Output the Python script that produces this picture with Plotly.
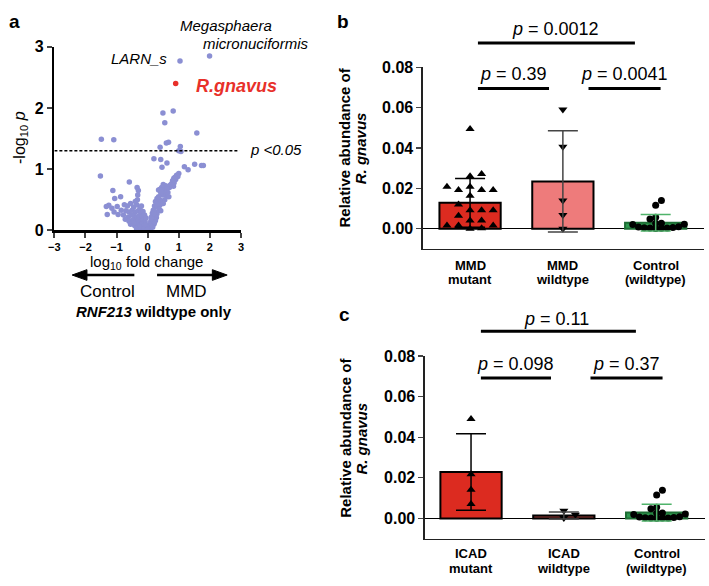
import plotly.graph_objects as go
import math

W, H = 709, 586
FONT = "Liberation Sans, Arial, sans-serif"

# ---------------- DATA ----------------
# Panel a: volcano (log10 fold change vs -log10 p)
volc_fc = [0.49, 0.82, 0.55, 1.58, -1.49, -1.09, 0.60, 0.67, 0.40, 1.05, 1.00, 1.07,
           0.20, 0.42, 0.62, 0.46, 1.18, 1.30, 1.51, 1.73, 1.79, -1.52,
           1.00, 0.93, 0.97, 0.88, 0.90, 0.84, 0.80, 0.85, 0.77, 0.73, 0.83, 0.70,
           0.50, 0.58, 0.45, 0.40, 0.35, 0.55, 0.62, 0.65, 0.52, 0.60, 0.48, 0.68, 0.42,
           0.30, 0.38, 0.45, 0.25, 0.33, 0.40, 0.55, 0.22, 0.30, 0.37, 0.42, 0.50,
           0.18, 0.25, 0.30, 0.15, 0.22, 0.28, 0.12, 0.18, 0.25, 0.10, 0.15, 0.20, 0.08, 0.12,
           0.05, 0.09, 0.03, 0.06, 0.02, 0.13, 0.35, 0.28, 0.20, 0.16, 0.22,
           -0.59, -0.34, -0.30, -1.12, -0.32, -0.87, -1.06, -1.25, -1.33, -0.98, -1.30, -1.15, -1.08,
           -0.75, -0.65, -0.55, -0.45, -0.35, -0.25, -0.20, -0.85, -0.70, -0.60, -0.50, -0.40,
           -0.30, -0.22, -0.15, -0.95, -0.78, -0.62, -0.52, -0.42, -0.35, -0.27, -0.18, -0.10,
           -0.72, -0.60, -0.48, -0.38, -0.30, -0.22, -0.14, -0.08,
           -0.55, -0.42, -0.33, -0.25, -0.18, -0.12, -0.05, -0.20, -0.10, -0.03, -0.07, -0.15,
           0.00, -0.02, -0.28, -0.36, -0.45, -0.05, -0.33, -0.40]
volc_nlp = [1.92, 1.95, 1.76, 1.59, 1.49, 1.48, 1.43, 1.44, 1.36, 1.37, 1.30, 1.29,
            1.17, 1.16, 1.10, 1.03, 1.04, 0.99, 1.08, 1.06, 1.06, 0.89,
            0.93, 0.90, 0.88, 0.87, 0.83, 0.85, 0.81, 0.78, 0.76, 0.74, 0.72, 0.70,
            0.75, 0.73, 0.70, 0.67, 0.66, 0.65, 0.68, 0.62, 0.60, 0.57, 0.58, 0.55, 0.62,
            0.52, 0.50, 0.48, 0.47, 0.45, 0.42, 0.50, 0.40, 0.38, 0.35, 0.32, 0.44,
            0.33, 0.30, 0.27, 0.28, 0.24, 0.21, 0.22, 0.18, 0.16, 0.15, 0.12, 0.10, 0.10, 0.07,
            0.05, 0.04, 0.02, 0.01, 0.00, 0.20, 0.55, 0.43, 0.27, 0.05, 0.13,
            0.79, 0.70, 0.65, 0.65, 0.58, 0.55, 0.52, 0.41, 0.39, 0.39, 0.26, 0.36, 0.30,
            0.42, 0.40, 0.44, 0.38, 0.42, 0.36, 0.40, 0.33, 0.32, 0.30, 0.33, 0.30,
            0.32, 0.29, 0.31, 0.26, 0.25, 0.22, 0.25, 0.23, 0.20, 0.24, 0.22, 0.25,
            0.18, 0.15, 0.17, 0.14, 0.17, 0.15, 0.17, 0.14,
            0.10, 0.08, 0.11, 0.08, 0.10, 0.07, 0.09, 0.04, 0.03, 0.05, 0.01, 0.02,
            0.02, 0.00, 0.05, 0.03, 0.12, 0.20, 0.50, 0.47]
named_species = ["LARN_s", "Megasphaera<br>micronuciformis", "R.gnavus"]
named_fc = [1.04, 1.99, 0.90]
named_nlp = [2.77, 2.85, 2.40]
p_threshold = 0.05

# Panel b: MMD groups
cats_b = ["MMD<br>mutant", "MMD<br>wildtype", "Control<br>(wildtype)"]
mmd_mutant = [0.0494, 0.0271, 0.0260, 0.0207, 0.0207, 0.0191, 0.0191, 0.0191, 0.0163,
              0.0120, 0.0091, 0.0091, 0.0091, 0.0064, 0.0040, 0.0040, 0.0016, 0.0016,
              0.0016, 0.0000, 0.0002]
mmd_wildtype = [0.0590, 0.0406, 0.0139, 0.0067, 0.0000]
control_wt = [0.0139, 0.0116, 0.0056, 0.0048, 0.0027, 0.0022, 0.0027, 0.0020, 0.0005,
              0.0003, 0.0002, 0.0003, 0.0004, 0.0008, 0.0009, 0.0001]
mean_b = [0.0128, 0.0234, 0.0029]
sd_b = [0.0121, 0.0251, 0.0041]
pvals_b = ["0.0012", "0.39", "0.0041"]

# Panel c: ICAD groups
cats_c = ["ICAD<br>mutant", "ICAD<br>wildtype", "Control<br>(wildtype)"]
icad_mutant = [0.0489, 0.0218, 0.0142, 0.0072]
icad_wildtype = [0.0038, 0.0019, 0.0003]
mean_c = [0.0229, 0.0015, 0.0029]
sd_c = [0.0188, 0.0017, 0.0041]
pvals_c = ["0.11", "0.098", "0.37"]

# ---------------- HELPERS ----------------
def fx(px):
    return px / W

def fy(py):
    return 1 - py / H

def swarm(values, center, ypx_per_unit, xpx_per_unit, d, step):
    order = sorted(range(len(values)), key=lambda i: values[i])
    placed = []
    xs = [center] * len(values)
    cands = [0]
    for j in range(1, 40):
        cands += [j, -j]
    for i in order:
        yv = values[i] * ypx_per_unit
        ox = 0
        for c in cands:
            ox = c * step
            if all((ox - a) ** 2 + (yv - b) ** 2 >= d * d for a, b in placed):
                break
        placed.append((ox, yv))
        xs[i] = center + ox / xpx_per_unit
    return xs

fig = go.Figure()

# ---------------- PANEL A ----------------
VOL = '#8b8fd3'
fig.add_trace(go.Scatter(x=volc_fc, y=volc_nlp, mode='markers',
                         marker=dict(size=5.5, color=VOL), cliponaxis=False,
                         xaxis='x', yaxis='y', showlegend=False, hoverinfo='skip'))
fig.add_trace(go.Scatter(x=named_fc, y=named_nlp, mode='markers',
                         marker=dict(size=5.5, color=[VOL, VOL, '#e8302a']), cliponaxis=False,
                         xaxis='x', yaxis='y', showlegend=False, hoverinfo='skip'))
thr = -math.log10(p_threshold)
shapes = []
shapes.append(dict(type='line', xref='x', yref='y', x0=-3, x1=2.95, y0=thr, y1=thr,
                   line=dict(color='black', width=1.3, dash='3px,2px')))

# arrows
def arrow(tail, tip, y, head_len=15, half_h=5.5, lw=2.5):
    sgn = 1 if tip > tail else -1
    base = tip - sgn * head_len
    shapes.append(dict(type='line', xref='paper', yref='paper', x0=fx(tail), x1=fx(base + sgn * 1),
                       y0=fy(y), y1=fy(y), line=dict(color='black', width=lw)))
    path = "M {},{} L {},{} L {},{} Z".format(fx(tip), fy(y), fx(base), fy(y - half_h), fx(base), fy(y + half_h))
    shapes.append(dict(type='path', xref='paper', yref='paper', path=path,
                       fillcolor='black', line=dict(color='black', width=1)))

arrow(130, 67, 275)
arrow(153, 224, 275)

# ---------------- PANEL B / C bars ----------------
RED = '#dc2b20'
PINK = '#ee7b7b'
BROWN = '#9a3a36'
GREEN = '#2e9a4f'
GREEN_ERR = '#4fb36a'

PX_PER_CAT = 94.0
PX_PER_UNIT_Y = 167.4 / 0.08

def panel(xa, ya, cats, means, sds, groups, symbols, colors, edgecolors, errcolors):
    fig.add_trace(go.Bar(x=[0, 1, 2], y=means, width=0.66,
                         marker=dict(color=colors, line=dict(color=edgecolors, width=2)),
                         xaxis=xa, yaxis=ya, showlegend=False, hoverinfo='skip'))
    for i, (vals, sym) in enumerate(zip(groups, symbols)):
        if sym == 'circle':
            xs = swarm(vals, i, PX_PER_UNIT_Y, PX_PER_CAT, 5, 5.8)
            size = 7
        else:
            xs = swarm(vals, i, PX_PER_UNIT_Y, PX_PER_CAT, 7, 11.7)
            size = 8
        fig.add_trace(go.Scatter(x=xs, y=vals, mode='markers',
                                 marker=dict(symbol=sym, size=size, color='black'),
                                 cliponaxis=False, xaxis=xa, yaxis=ya,
                                 showlegend=False, hoverinfo='skip'))
    for i in range(3):
        fig.add_trace(go.Scatter(x=[i], y=[means[i]], mode='markers',
                                 marker=dict(size=1, color='rgba(0,0,0,0)'),
                                 error_y=dict(type='data', array=[sds[i]], color=errcolors[i],
                                              thickness=1.5, width=15),
                                 cliponaxis=False, xaxis=xa, yaxis=ya,
                                 showlegend=False, hoverinfo='skip'))

panel('x2', 'y2', cats_b, mean_b, sd_b, [mmd_mutant, mmd_wildtype, control_wt],
      ['triangle-up', 'triangle-down', 'circle'], [RED, PINK, GREEN],
      ['black', 'black', '#1e6e35'], ['black', '#444444', GREEN_ERR])
panel('x3', 'y3', cats_c, mean_c, sd_c, [icad_mutant, icad_wildtype, control_wt],
      ['triangle-up', 'triangle-down', 'circle'], [RED, BROWN, GREEN],
      ['black', 'black', '#1e6e35'], ['black', '#444444', GREEN_ERR])

# ---------------- AXES ----------------
bold = dict(family=FONT, color='black', weight='bold')
fig.update_layout(
    width=W, height=H, margin=dict(l=0, r=0, t=0, b=0),
    paper_bgcolor='white', plot_bgcolor='white', bargap=0,
    font=dict(family=FONT, color='black'),
    xaxis=dict(domain=[fx(49), fx(238)], range=[-3, 3], tickvals=[-3, -2, -1, 0, 1, 2, 3],
               ticks='outside', ticklen=5, tickwidth=2, showline=True, linewidth=2.5,
               linecolor='black', showgrid=False, zeroline=False, anchor='y',
               tickfont=dict(size=11, **bold)),
    yaxis=dict(domain=[fy(229), fy(40)], range=[0, 3], tickvals=[0, 1, 2, 3],
               ticks='outside', ticklen=5, tickwidth=2, showline=True, linewidth=2.5,
               linecolor='black', showgrid=False, zeroline=False, anchor='x',
               tickfont=dict(size=16, **bold)),
    xaxis2=dict(domain=[fx(422), fx(707)], range=[-0.511, 2.521], showticklabels=False,
                ticks='', showline=True, linewidth=1.2, linecolor='#222', showgrid=False,
                zeroline=False, anchor='y2'),
    yaxis2=dict(domain=[fy(248), fy(61)], range=[-0.01, 0.08],
                tickvals=[0, 0.02, 0.04, 0.06, 0.08], tickformat='.2f',
                ticks='outside', ticklen=5, tickwidth=1.2, showline=True, linewidth=1.2,
                linecolor='#222', showgrid=False, zeroline=True, zerolinecolor='black',
                zerolinewidth=1.3, anchor='x2', tickfont=dict(size=16, **bold)),
    xaxis3=dict(domain=[fx(424), fx(708)], range=[-0.5, 2.521], showticklabels=False,
                ticks='', showline=True, linewidth=1.2, linecolor='#222', showgrid=False,
                zeroline=False, anchor='y3'),
    yaxis3=dict(domain=[fy(546.7), fy(358.3)], range=[-0.01, 0.08],
                tickvals=[0, 0.02, 0.04, 0.06, 0.08], tickformat='.2f',
                ticks='outside', ticklen=5, tickwidth=1.2, showline=True, linewidth=1.2,
                linecolor='#222', showgrid=False, zeroline=True, zerolinecolor='black',
                zerolinewidth=1.3, anchor='x3', tickfont=dict(size=16, **bold)),
)

# ---------------- ANNOTATIONS ----------------
ann = []
def txt(s, px, py, size, xanchor='center', yanchor='middle', color='black', weight='normal', angle=0):
    ann.append(dict(text=s, x=fx(px), y=fy(py), xref='paper', yref='paper',
                    xanchor=xanchor, yanchor=yanchor, showarrow=False, textangle=angle,
                    font=dict(family=FONT, size=size, color=color, weight=weight)))

# panel a
txt("a", 9, 14, 19, weight='bold')
txt("-log<sub>10</sub> <i>p</i>", 14, 133, 16, angle=-90)
txt("log<sub>10</sub> fold change", 142, 262, 15)
txt("Control", 103, 292, 17)
txt("MMD", 183, 292, 17)
txt("<i>RNF213</i> wildtype only", 150, 313, 15, weight='bold')
mega = named_species[1].split("<br>")
txt("<i>%s</i>" % mega[0], 271, 18, 15, xanchor='right')
txt("<i>%s</i>" % mega[1], 309, 37, 15, xanchor='right')
txt("<i>%s</i>" % named_species[0], 165, 52, 15, xanchor='right')
txt("<i>%s</i>" % named_species[2], 190, 80, 18, xanchor='left', color='#e8302a', weight='bold')
txt("<i>p &lt;%s</i>" % ("%.2f" % p_threshold), 245, 146, 15, xanchor='left')

# panel b / c common text
def bar_panel_text(label, lab_xy, ytitle_x, ytitle_y, centers, cat_y, cats, pvals, p_pos, lines):
    txt(label, lab_xy[0], lab_xy[1], 19, weight='bold')
    txt("Relative abundance of", ytitle_x, ytitle_y, 15, weight='bold', angle=-90)
    txt("<i>R. gnavus</i>", ytitle_x + 16, ytitle_y, 15, weight='bold', angle=-90)
    for cx, c in zip(centers, cats):
        l1, l2 = c.split("<br>")
        txt(l1, cx, cat_y, 13, weight='bold')
        txt(l2, cx, cat_y + 15, 13, weight='bold')
    for pv, (px, py) in zip(pvals, p_pos):
        txt("<i>p</i> = %s" % pv, px, py, 18)
    for (x0, x1, y) in lines:
        shapes.append(dict(type='line', xref='paper', yref='paper', x0=fx(x0), x1=fx(x1),
                           y0=fy(y), y1=fy(y), line=dict(color='black', width=3)))

bar_panel_text("b", (341, 14), 343, 144, [470, 564, 658], 265, cats_b, pvals_b,
               [(557, 22), (514, 68), (626, 68)],
               [(478, 637, 36), (478, 550, 83), (590, 663, 83)])
bar_panel_text("c", (343, 316), 344, 443, [471, 565, 659], 562, cats_c, pvals_c,
               [(558, 320), (516, 367), (628, 367)],
               [(481, 638, 333), (481, 552, 381), (592, 665, 381)])

fig.update_layout(annotations=ann, shapes=shapes)
fig.write_html("out.html", config={'displayModeBar': False, 'staticPlot': True},
               post_script="document.body.style.margin='0';document.body.style.overflow='hidden';")
